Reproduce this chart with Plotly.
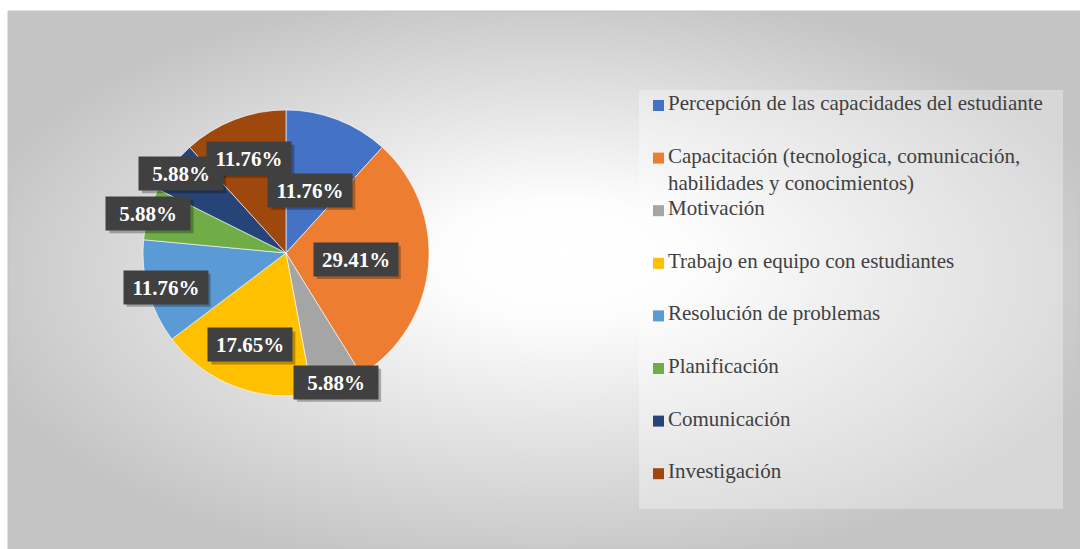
import math
import base64
import plotly.graph_objects as go

# ---- data ----
categories = [
    "Percepción de las capacidades del estudiante",
    "Capacitación (tecnologica, comunicación,<br>habilidades y conocimientos)",
    "Motivación",
    "Trabajo en equipo con estudiantes",
    "Resolución de problemas",
    "Planificación",
    "Comunicación",
    "Investigación",
]
percentages = [11.76, 29.41, 5.88, 17.65, 11.76, 5.88, 5.88, 11.76]

# ---- styles ----
colors = ["#4472C4", "#ED7D31", "#A5A5A5", "#FFC000",
          "#5B9BD5", "#70AD47", "#264478", "#9E480E"]
label_radius = [0.47, 0.49, 0.97, 0.69, 0.875, 1.0, 0.92, 0.71]

W, H = 1080, 549
CX, CY, R = 286, 253, 143
BOX_W, BOX_H = 84, 33

def px(x):
    return x / W

def py(y):
    return 1 - y / H

# background radial gradient as svg image
svg = '''<svg xmlns="http://www.w3.org/2000/svg" width="1072" height="538" viewBox="0 0 1072 538" preserveAspectRatio="none">
<defs><radialGradient id="g" cx="0.5" cy="0.5" r="0.55" fx="0.52" fy="0.45">
<stop offset="0" stop-color="#ffffff"/><stop offset="0.2" stop-color="#fdfdfd"/>
<stop offset="1" stop-color="#c4c4c4"/></radialGradient></defs>
<rect x="0" y="0" width="1072" height="538" fill="url(#g)"/></svg>'''
bg_uri = "data:image/svg+xml;base64," + base64.b64encode(svg.encode()).decode()

fig = go.Figure()
fig.add_trace(go.Pie(
    labels=categories,
    values=percentages,
    sort=False,
    direction="clockwise",
    rotation=0,
    marker=dict(colors=colors, line=dict(color="rgba(255,255,255,0.6)", width=1)),
    textinfo="none",
    showlegend=False,
    domain=dict(x=[px(CX - R), px(CX + R)], y=[py(CY + R), py(CY - R)]),
))

annotations = []
shapes = []

# data labels
total = sum(percentages)
cum = 0.0
for v, frac in zip(percentages, label_radius):
    theta = math.radians(360 * (cum + v / 2) / total)
    cum += v
    lx = CX + R * frac * math.sin(theta)
    ly = CY - R * frac * math.cos(theta)
    txt = f"{v:.2f}%"
    # soft shadow behind the label box
    shapes.append(dict(type="rect", xref="paper", yref="paper",
                       x0=px(lx - BOX_W / 2 + 3), x1=px(lx + BOX_W / 2 + 3),
                       y0=py(ly + BOX_H / 2 + 3), y1=py(ly - BOX_H / 2 + 3),
                       fillcolor="rgba(0,0,0,0.28)", line=dict(width=0), layer="above"))
    annotations.append(dict(text=f"<b>{txt}</b>", bgcolor="#404040",
                            x=px(lx), y=py(ly), xref="paper", yref="paper", showarrow=False,
                            width=BOX_W - 8, height=BOX_H - 8, borderpad=4,
                            xanchor="center", yanchor="middle",
                            font=dict(color="white", size=21, family="Liberation Serif")))

# legend box
shapes.append(dict(type="rect", xref="paper", yref="paper",
                   x0=px(639), x1=px(1063), y0=py(509), y1=py(90),
                   fillcolor="rgba(255,255,255,0.32)", line=dict(width=0), layer="below"))
# chart frame
shapes.append(dict(type="rect", xref="paper", yref="paper",
                   x0=px(8), x1=px(1080), y0=py(549), y1=py(11),
                   fillcolor="rgba(0,0,0,0)", line=dict(color="#c4c4c4", width=1), layer="above"))

# manual legend
for i, (cat, col) in enumerate(zip(categories, colors)):
    yc = 104 + 52.6 * i
    shapes.append(dict(type="rect", xref="paper", yref="paper",
                       x0=px(653), x1=px(664), y0=py(yc + 7), y1=py(yc - 4),
                       fillcolor=col, line=dict(width=0)))
    annotations.append(dict(text=cat, x=px(667), y=py(yc - 14), xref="paper", yref="paper",
                            showarrow=False, xanchor="left", yanchor="top", align="left",
                            borderpad=0,
                            font=dict(color="#404040", size=21, family="Liberation Serif")))

fig.update_layout(
    width=W, height=H,
    margin=dict(l=0, r=0, t=0, b=0),
    paper_bgcolor="white",
    plot_bgcolor="white",
    images=[dict(source=bg_uri, xref="paper", yref="paper", x=px(8), y=py(11),
                 sizex=(W - 8) / W, sizey=(H - 11) / H, sizing="stretch",
                 xanchor="left", yanchor="top", layer="below")],
    shapes=shapes,
    annotations=annotations,
)

fig.write_html("out.html", config={"displayModeBar": False},
               post_script="document.body.style.margin='0';document.body.style.overflow='hidden';")
